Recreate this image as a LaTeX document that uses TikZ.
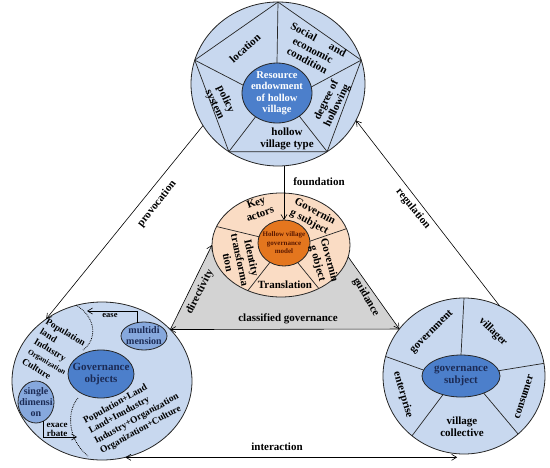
\documentclass[tikz,border=0pt]{standalone}
\usepackage{fontspec}
\setmainfont{Liberation Serif}
\usetikzlibrary{arrows.meta, shapes.geometric, backgrounds}
\definecolor{RingBlue}{HTML}{C8D8EF}
\definecolor{CoreBlue}{HTML}{4C7FCB}
\definecolor{DimBlue}{HTML}{86A8DD}
\definecolor{Peach}{HTML}{FADCC4}
\definecolor{Pumpkin}{HTML}{E4761E}
\definecolor{Rust}{HTML}{5A1800}
\definecolor{Navy}{HTML}{1C2B55}
\definecolor{Shade}{HTML}{D3D3D3}

\begin{document}
\begin{tikzpicture}[
    x=1pt, y=-1pt,
    font=\fontsize{11}{12}\selectfont\bfseries,
    >={Straight Barb[length=5pt, width=6pt]},
    ring/.style={ellipse, draw=black!85, line width=0.8pt, fill=RingBlue, inner sep=0pt, outer sep=0pt},
    core/.style={ring, fill=CoreBlue},
    dimbox/.style={ring, fill=DimBlue},
    spoke/.style={black!85, line width=0.7pt},
    link/.style={black, line width=0.6pt, ->},
    lbl/.style={align=center, inner sep=0pt},
    listtxt/.style={lbl, align=left, font=\fontsize{9.5}{11.5}\selectfont\bfseries}
]
\useasboundingbox (0,0) rectangle (550,467);

% --- resource endowment (top) ---
\node[ring, minimum width=174pt, minimum height=164pt] (endow) at (278,84) {};
\draw[spoke] (endow.90) -- (endow.164) -- (endow.234) -- (endow.306) -- (endow.16) -- cycle;
\node[core, minimum width=70pt, minimum height=60pt] (res) at (277,93) {};
\foreach \a/\b in {90/90, 164/167, 234/228, 306/314, 16/10}
  \draw[spoke] (res.\b) -- (endow.\a);
\node[lbl, white, font=\fontsize{10.5}{11.5}\selectfont\bfseries] (res-t) at (res) {Resource\\endowment\\of hollow\\village};
\node[lbl, rotate=42] (loc) at (245,48) {location};
\node[lbl, rotate=-28] (soc) at (313,50) {Social\hspace{1.4em}and\\economic\\condition};
\node[lbl, rotate=-65] (pol) at (220,102) {policy\\system};
\node[lbl, rotate=64] (deg) at (332,103) {degree of\\hollowing};
\node[lbl] (typ) at (287,139) {hollow\\village type};

% --- governance model (centre) ---
\node[ring, fill=Peach, minimum width=138pt, minimum height=104pt] (mid) at (281,245) {};
\node[ring, fill=Pumpkin, minimum width=52pt, minimum height=46pt] (model) at (284,243) {};
\foreach \a/\b in {164/166, 14/4, 234/234, 311/305}
  \draw[spoke] (model.\b) -- (mid.\a);
\node[lbl, text=Rust, font=\fontsize{7}{8.5}\selectfont\bfseries] (model-t) at (model) {Hollow village\\governance\\model};
\node[lbl, rotate=20] (key) at (258,208) {Key\\actors};
\node[lbl, rotate=-28] (gsubj) at (312,217) {Governin\\g subject};
\node[lbl, rotate=-75] (gobjt) at (323,262) {Governin\\g object};
\node[lbl] (tran) at (285,285) {Translation};
\node[lbl, rotate=-78] (iden) at (240,260) {Identity\\transforma\\tion};

% --- governance objects (left) ---
\node[ring, minimum width=180pt, minimum height=158pt] (objs) at (102,381) {};
\node[core, minimum width=66pt, minimum height=48pt] (gobj) at (101,374) {};
\node[dimbox, minimum width=46pt, minimum height=28pt] (multi) at (144,336) {};
\node[dimbox, minimum width=36pt, minimum height=42pt] (single) at (36,402) {};
\node[lbl, Navy] (gobj-t) at (gobj) {Governance\\objects};
\node[lbl, Navy, font=\fontsize{10}{11}\selectfont\bfseries] (multi-t) at (multi) {multidi\\mension};
\node[lbl, Navy, font=\fontsize{10}{11}\selectfont\bfseries] (single-t) at (single) {single\\dimensi\\on};
\draw[densely dotted, line width=0.8pt] (76,305) .. controls (97,318) and (97,340) .. (83,350);
\draw[densely dotted, line width=0.8pt] (78,398) .. controls (66,412) and (68,440) .. (88,456);
\coordinate (easeend) at (87,311);
\coordinate (exacend) at (77,437);
\draw[link] (multi.115) |- (easeend);
\draw[link] (single.290) |- (exacend);
\node[lbl, font=\fontsize{8.5}{9.5}\selectfont\bfseries] (ease) at (110,316) {ease};
\node[lbl, font=\fontsize{9}{9.5}\selectfont\bfseries] (exac) at (57,430) {exace\\rbate};
\node[listtxt, rotate=-31] (dims) at (54,352) {Population\\land\\Industry\\{\fontsize{7.5}{11}\selectfont Organization}\\Culture};
\node[listtxt, rotate=29] (pairs) at (134,414) {Population+Land\\Land+Inndustry\\Industry+Organization\\Organization+Culture};

% --- governance subject (right) ---
\node[ring, minimum width=162pt, minimum height=156pt] (subj) at (464,376) {};
\node[core, minimum width=78pt, minimum height=42pt] (gsub) at (461,376) {};
\foreach \a/\b in {90/90, 166/171, 9/8, 229/226, 313/323}
  \draw[spoke] (gsub.\b) -- (subj.\a);
\node[lbl, Navy] (gsub-t) at (gsub) {governance\\subject};
\node[lbl, rotate=45] (gov) at (432,332) {government};
\node[lbl, rotate=-45] (vil) at (493,332) {villager};
\node[lbl, rotate=72] (con) at (524,397) {consumer};
\node[lbl, rotate=-74] (ent) at (403,395) {enterprise};
\node[lbl] (col) at (462,427) {village\\collective};

% --- connectors ---
\draw[link] (endow.209) -- (objs.132);
\draw[link] (subj.63) -- (endow.335);
\draw[link] (model.north |- endow.south) -- (model.north);
\draw[link, <->] (objs.287) -- (subj.265 |- objs.287);
\draw[link] (objs.37) -- (mid.180);
\draw[link] (mid.350) -- (subj.144);
\draw[link] (subj.144) -- (objs.37);
\begin{scope}[on background layer]
  \fill[Shade] (objs.37) -- (mid.180) -- (mid.350) -- (subj.144) -- cycle;
\end{scope}
\node[lbl, rotate=52] (prov) at (157,204) {provocation};
\node[lbl, rotate=-51] (regu) at (413,209) {regulation};
\node[lbl] (foun) at (319,182) {foundation};
\node[lbl, rotate=63] (dire) at (200,292) {directivity};
\node[lbl, rotate=-60] (guid) at (366,297) {guidance};
\node[lbl] (clas) at (288,319) {classified governance};
\node[lbl] (inte) at (277,447) {interaction};
\end{tikzpicture}
\end{document}
